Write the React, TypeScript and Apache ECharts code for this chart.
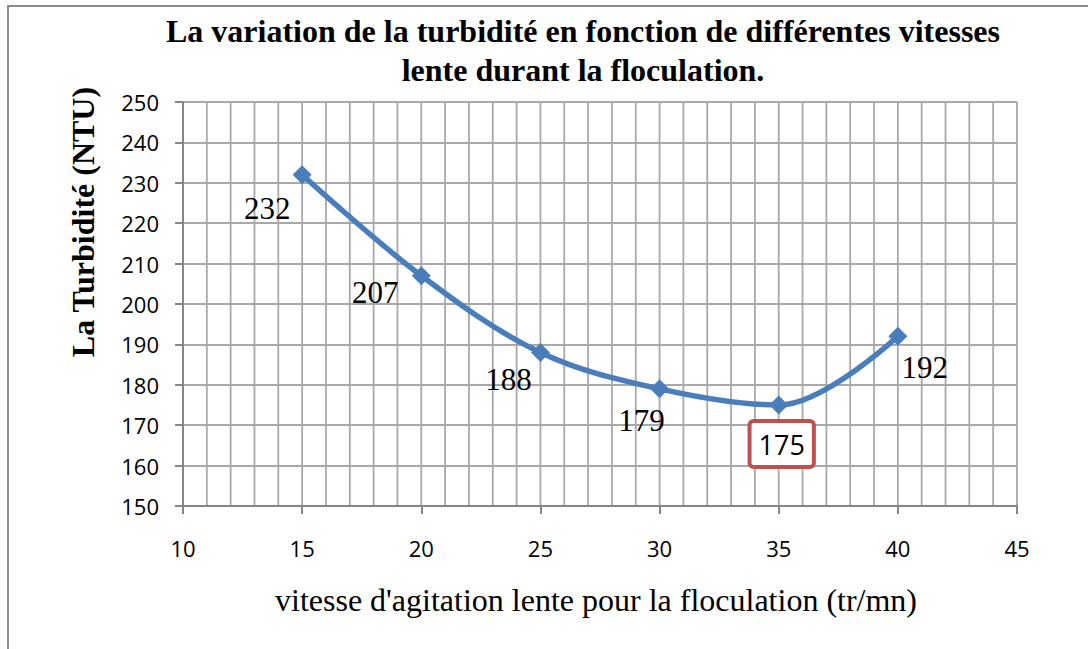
import React, { useEffect, useRef } from "react";
import * as echarts from "echarts";

const speeds = [15, 20, 25, 30, 35, 40];
const turbidity = [232, 207, 188, 179, 175, 192];
const highlightIndex = 4;
const labelOffsets: [number, number][] = [
  [-35, 34],
  [-46, 17],
  [-32, 27],
  [-18, 32],
  [3, 39],
  [27, 31],
];
const titleLines = [
  "La variation de la turbidité en fonction de différentes vitesses",
  "lente durant la floculation.",
];
const yAxisTitle = "La Turbidité (NTU)";
const xAxisTitle = "vitesse d'agitation lente pour la floculation (tr/mn)";
const xMin = 10, xMax = 45, xStep = 5, xMinorStep = 1;
const yMin = 150, yMax = 250, yStep = 10;

export default function App() {
  const ref = useRef<HTMLDivElement>(null);
  useEffect(() => {
    if (!ref.current) return;
    const chart = echarts.init(ref.current, null, { renderer: "svg" });
    const serif = "'Liberation Serif', 'Times New Roman', serif";
    const sans = "'Open Sans', 'Noto Sans', sans-serif";
    const data = speeds.map((x, i) => {
      const base: any = {
        value: [x, turbidity[i]],
        label: {
          show: true,
          position: "inside",
          offset: labelOffsets[i],
          formatter: String(turbidity[i]),
          fontFamily: serif,
          fontSize: 31,
          color: "#000",
        },
      };
      if (i === highlightIndex) {
        base.label = {
          ...base.label,
          fontFamily: sans,
          fontSize: 27,
          lineHeight: 34,
          backgroundColor: "#fff",
          borderColor: "#c0504d",
          borderWidth: 4,
          borderRadius: 2,
          padding: [4, 7],
        };
      }
      return base;
    });
    const gridColor = "#a8a8a8";
    const gridWidth = 1.8;
    chart.setOption({
      animation: false,
      backgroundColor: "#fff",
      grid: { left: 183, top: 102, right: 71, bottom: 143, containLabel: false },
      title: {
        text: titleLines.join("\n"),
        left: 578,
        textAlign: "center",
        top: 6,
        textStyle: {
          fontFamily: serif,
          fontWeight: "bold",
          fontSize: 32,
          lineHeight: 39,
          color: "#000",
        },
      },
      xAxis: {
        type: "value",
        min: xMin,
        max: xMax,
        interval: xStep,
        axisLine: { show: true, onZero: false, lineStyle: { color: "#868686", width: 2 } },
        axisTick: { show: true, length: 8, lineStyle: { color: "#868686", width: 2 } },
        axisLabel: { margin: 31, fontFamily: sans, fontSize: 22, color: "#000" },
        splitLine: { show: false },
        z: 2,
      },
      yAxis: {
        type: "value",
        min: yMin,
        max: yMax,
        interval: yStep,
        axisLine: { show: true, onZero: false, lineStyle: { color: "#868686", width: 2 } },
        axisTick: { show: true, length: 8, lineStyle: { color: "#868686", width: 2 } },
        axisLabel: { margin: 24, fontFamily: sans, fontSize: 22, color: "#000" },
        splitLine: { show: true, lineStyle: { color: gridColor, width: gridWidth } },
      },
      series: [
        {
          type: "line",
          data,
          smooth: 0.35,
          symbol: "diamond",
          symbolSize: 19,
          itemStyle: { color: "#4a7ebb" },
          lineStyle: { color: "#4a7ebb", width: 5.5 },
          z: 5,
        },
      ],
    });

    const yTop = chart.convertToPixel({ yAxisIndex: 0 }, yMax) as number;
    const yBottom = chart.convertToPixel({ yAxisIndex: 0 }, yMin) as number;
    const vLines: any[] = [];
    for (let v = xMin + xMinorStep; v < xMax + 1e-9; v += xMinorStep) {
      const px = chart.convertToPixel({ xAxisIndex: 0 }, v) as number;
      vLines.push({
        type: "line",
        shape: { x1: px, y1: yTop, x2: px, y2: yBottom },
        style: { stroke: gridColor, lineWidth: gridWidth },
        silent: true,
        z: 0,
      });
    }

    chart.setOption({
      graphic: [
        {
          type: "rect",
          shape: { x: 8, y: 6, width: 1200, height: 800 },
          style: { fill: "none", stroke: "#8c8c8c", lineWidth: 2 },
          silent: true,
          z: 0,
        },
        ...vLines,
        {
          type: "text",
          x: 83,
          y: 222,
          rotation: Math.PI / 2,
          style: {
            text: yAxisTitle,
            fontFamily: serif,
            fontWeight: "bold",
            fontSize: 32,
            fill: "#000",
            textAlign: "center",
            textVerticalAlign: "middle",
          },
        },
        {
          type: "text",
          x: 596,
          y: 600,
          style: {
            text: xAxisTitle,
            fontFamily: serif,
            fontSize: 32,
            fill: "#000",
            textAlign: "center",
            textVerticalAlign: "middle",
          },
        },
      ],
    });
    return () => chart.dispose();
  }, []);
  return (
    <div
      ref={ref}
      style={{ position: "absolute", left: 0, top: 0, width: 1088, height: 649 }}
    />
  );
}
